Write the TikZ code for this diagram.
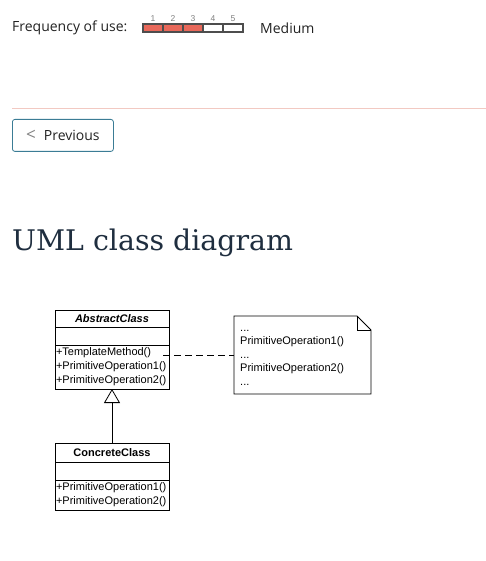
\documentclass[tikz,border=0pt]{standalone}
\usepackage{fontspec}
\setmainfont{Open Sans}
\newfontfamily\umlfont{Liberation Sans}
\newfontfamily\headfont{DejaVu Serif}
\usetikzlibrary{positioning,arrows.meta}
\definecolor{barred}{HTML}{E8685A}
\definecolor{barline}{HTML}{4D4D4D}
\definecolor{sepline}{HTML}{F2C9C2}
\definecolor{btnline}{HTML}{3B7C95}
\definecolor{headcol}{HTML}{1F2E3F}
\definecolor{uitext}{HTML}{222222}

\begin{document}
\begin{tikzpicture}[x=1pt,y=-1pt,>={Triangle[open,length=14pt,width=16pt]},node distance=0pt,
  ui/.style={font=\fontsize{14}{16}\selectfont, text=uitext, inner sep=0},
  cell/.style={draw=barline, line width=1.3pt, minimum width=20, minimum height=8, inner sep=0},
  num/.style={font=\umlfont\fontsize{8.5}{9}\selectfont, text=gray, inner sep=0},
  cls/.style={draw, line width=0.8pt, minimum width=114, inner sep=0, outer sep=0,
    font=\umlfont\fontsize{11}{13}\selectfont},
  ops/.style={cls, align=left, text width=112, font=\umlfont\fontsize{11}{14}\selectfont}]
\useasboundingbox (0,0) rectangle (486,561);

% frequency bar
\node[ui, anchor=west] (freq) at (12,28) {Frequency of use:};
\foreach \i/\c in {1/barred,2/barred,3/barred,4/white,5/white} {
  \node[cell, fill=\c] (c\i) at (133+20*\i,28) {};
  \node[num, above=2pt of c\i] {\i};
}
\node[ui, anchor=west] (level) at (260,28) {Medium};

\draw[sepline] (12,108) -- (486,108);
\node[draw=btnline, rounded corners=2.5pt, line width=0.8pt, minimum width=101, minimum height=32,
  anchor=north west, ui] (prev) at (12,119)
  {\textcolor{gray}{\fontsize{17}{17}\selectfont<}\hspace{8pt}Previous\hspace{6pt}};

\node[anchor=base west, font=\headfont\fontsize{28.4}{32}\selectfont, text=headcol, inner sep=0]
  (heading) at (12,250) {UML class diagram};

% abstract class
\node[cls, minimum height=17, font=\umlfont\bfseries\itshape\fontsize{11}{13}\selectfont]
  (abs) at (112,318.5) {AbstractClass};
\node[cls, minimum height=18, below=of abs] (absattr) {};
\node[ops, minimum height=44, below=of absattr] (absops)
  {+TemplateMethod()\\+PrimitiveOperation1()\\+PrimitiveOperation2()};

% concrete class
\node[cls, minimum height=19, font=\umlfont\bfseries\fontsize{11}{13}\selectfont]
  (con) at (112,452.5) {ConcreteClass};
\node[cls, minimum height=18, below=of con] (conattr) {};
\node[ops, minimum height=30, below=of conattr] (conops)
  {+PrimitiveOperation1()\\+PrimitiveOperation2()};

% note
\node[minimum width=137, minimum height=78, anchor=north west, inner sep=0, outer sep=0]
  (note) at (234,316) {};
\node[anchor=west, align=left, font=\umlfont\fontsize{11}{13.5}\selectfont, inner sep=0]
  (notetext) at ([xshift=6pt,yshift=-2.5pt]note.west)
  {...\\PrimitiveOperation1()\\...\\PrimitiveOperation2()\\...};
\draw[line width=0.8pt] (note.north west) -- ([xshift=-14pt]note.north east)
  -- ([yshift=-14pt]note.north east) -- (note.south east) -- (note.south west) -- cycle;
\draw[line width=0.8pt] ([xshift=-14pt]note.north east)
  -- ([xshift=-14pt,yshift=-14pt]note.north east) -- ([yshift=-14pt]note.north east);

\coordinate (hook) at (163,355);
\draw[line width=0.8pt, dash pattern=on 7pt off 4pt] (hook) -- (hook -| note.west);
\draw[->, line width=0.8pt] (con.north) -- (absops.south);
\end{tikzpicture}
\end{document}
